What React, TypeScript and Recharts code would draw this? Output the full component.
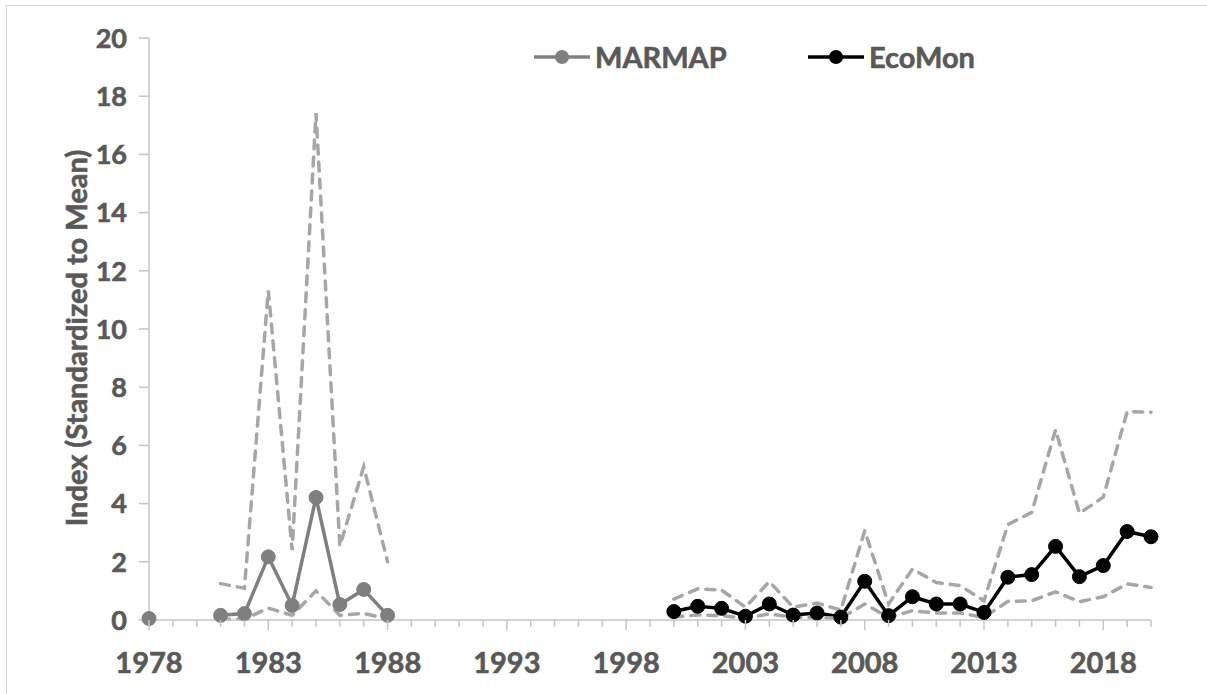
import { Line, LineChart, XAxis, YAxis } from "recharts";

// survey years along the category axis
const years = Array.from({ length: 2020 - 1978 + 1 }, (_, i) => 1978 + i);
const yTicks = [0, 2, 4, 6, 8, 10, 12, 14, 16, 18, 20];

const marmapYears = [1978, 1981, 1982, 1983, 1984, 1985, 1986, 1987, 1988];
const marmapIndex = [0.05, 0.16, 0.22, 2.17, 0.5, 4.21, 0.53, 1.05, 0.16];
const marmapUpper = [null, 1.25, 1.09, 11.33, 2.4, 17.42, 2.54, 5.26, 2.0];
const marmapLower = [null, 0.02, 0.03, 0.41, 0.16, 1.0, 0.16, 0.23, 0.03];

const ecomonYears = [
  2000, 2001, 2002, 2003, 2004, 2005, 2006, 2007, 2008, 2009, 2010,
  2011, 2012, 2013, 2014, 2015, 2016, 2017, 2018, 2019, 2020,
];
const ecomonIndex = [
  0.29, 0.47, 0.4, 0.13, 0.55, 0.17, 0.24, 0.1, 1.33, 0.15, 0.8,
  0.55, 0.55, 0.26, 1.47, 1.56, 2.53, 1.49, 1.87, 3.04, 2.86,
];
const ecomonUpper = [
  0.72, 1.07, 1.03, 0.44, 1.32, 0.44, 0.58, 0.34, 3.07, 0.55, 1.75,
  1.29, 1.18, 0.66, 3.28, 3.7, 6.54, 3.67, 4.22, 7.16, 7.14,
];
const ecomonLower = [
  0.11, 0.17, 0.15, 0.06, 0.21, 0.09, 0.09, 0.06, 0.55, 0.09, 0.32,
  0.24, 0.24, 0.09, 0.64, 0.66, 0.97, 0.63, 0.8, 1.24, 1.12,
];

const pick = (yrs: number[], vals: (number | null)[], yr: number) => {
  const i = yrs.indexOf(yr);
  return i < 0 ? null : vals[i];
};

const data = years.map((year) => ({
  year,
  marmap: pick(marmapYears, marmapIndex, year),
  marmapHi: pick(marmapYears, marmapUpper, year),
  marmapLo: pick(marmapYears, marmapLower, year),
  ecomon: pick(ecomonYears, ecomonIndex, year),
  ecomonHi: pick(ecomonYears, ecomonUpper, year),
  ecomonLo: pick(ecomonYears, ecomonLower, year),
}));

const FONT = "Lato, 'Open Sans', sans-serif";
const TEXT = "#595959";
const AXIS = "#c4c4c4";
const CI = "#a6a6a6";
// a thin outline in the text colour makes the bold labels a little heavier
const heavy = { stroke: TEXT, strokeWidth: 0.6, paintOrder: "stroke" as const };

function YearTick({ x, y, payload }: any) {
  const labeled = (payload.value - 1978) % 5 === 0;
  return (
    <g>
      <line x1={x} x2={x} y1={y} y2={y + (labeled ? 10 : 7)} stroke={AXIS} strokeWidth={1.5} />
      {labeled && (
        <text x={x} y={y + 53} textAnchor="middle" fill={TEXT} fontSize={29} fontWeight={700} fontFamily={FONT} {...heavy}>
          {payload.value}
        </text>
      )}
    </g>
  );
}

function ValueTick({ x, y, payload }: any) {
  return (
    <text x={x} y={y} dy="0.36em" textAnchor="end" fill={TEXT} fontSize={27} fontWeight={700} fontFamily={FONT} {...heavy}>
      {payload.value}
    </text>
  );
}

function AxisTitle() {
  return (
    <text
      x={80}
      y={332}
      transform="rotate(-90 80 332)"
      textAnchor="middle"
      fill={TEXT}
      fontSize={29}
      fontWeight={700}
      fontFamily={FONT}
      {...heavy}
    >
      Index (Standardized to Mean)
    </text>
  );
}

const legendItems = [
  { name: "MARMAP", color: "#7f7f7f", left: 527 },
  { name: "EcoMon", color: "#000000", left: 801 },
];

const dash = { stroke: CI, strokeWidth: 3.5, strokeDasharray: "9 8", strokeLinecap: "round" as const };

export default function App() {
  return (
    <div
      style={{
        position: "absolute",
        left: 6,
        top: 5,
        width: 1201,
        height: 689,
        boxSizing: "border-box",
        borderTop: "1.5px solid #d9d9d9",
        borderLeft: "1.5px solid #d9d9d9",
        overflow: "hidden",
        background: "#fff",
      }}
    >
      <LineChart width={1200} height={688} data={data} margin={{ top: 32, right: 56, bottom: 14, left: 0 }}>
        <XAxis
          dataKey="year"
          interval={0}
          tickLine={false}
          tickSize={0}
          tickMargin={0}
          axisLine={{ stroke: AXIS, strokeWidth: 1.5 }}
          tick={<YearTick />}
          height={60}
        />
        <YAxis
          type="number"
          domain={[0, 20]}
          ticks={yTicks}
          interval={0}
          width={142}
          tickSize={10}
          tickMargin={12}
          tickLine={{ stroke: AXIS, strokeWidth: 1.5 }}
          axisLine={{ stroke: AXIS, strokeWidth: 1.5 }}
          tick={<ValueTick />}
          label={<AxisTitle />}
        />
        {/* index lines first, dashed confidence bounds drawn over them */}
        <Line dataKey="marmap" stroke="#7f7f7f" strokeWidth={3.5} dot={{ r: 7, fill: "#7f7f7f", stroke: "#7f7f7f", strokeWidth: 1 }} isAnimationActive={false} />
        <Line dataKey="ecomon" stroke="#000000" strokeWidth={3.5} dot={{ r: 7, fill: "#000000", stroke: "#000000", strokeWidth: 1 }} isAnimationActive={false} />
        <Line dataKey="marmapHi" {...dash} dot={false} isAnimationActive={false} />
        <Line dataKey="marmapLo" {...dash} dot={false} isAnimationActive={false} />
        <Line dataKey="ecomonHi" {...dash} dot={false} isAnimationActive={false} />
        <Line dataKey="ecomonLo" {...dash} dot={false} isAnimationActive={false} />
      </LineChart>
      {legendItems.map((it) => (
        <div
          key={it.name}
          style={{ position: "absolute", left: it.left, top: 34, display: "flex", alignItems: "center", fontFamily: FONT }}
        >
          <svg width={56} height={16}>
            <line x1={0} x2={56} y1={8} y2={8} stroke={it.color} strokeWidth={3.5} />
            <circle cx={28} cy={8} r={7} fill={it.color} />
          </svg>
          <span
            style={{
              marginLeft: 5,
              fontSize: 29,
              fontWeight: 700,
              color: TEXT,
              lineHeight: "34px",
              WebkitTextStroke: `0.6px ${TEXT}`,
            }}
          >
            {it.name}
          </span>
        </div>
      ))}
    </div>
  );
}
